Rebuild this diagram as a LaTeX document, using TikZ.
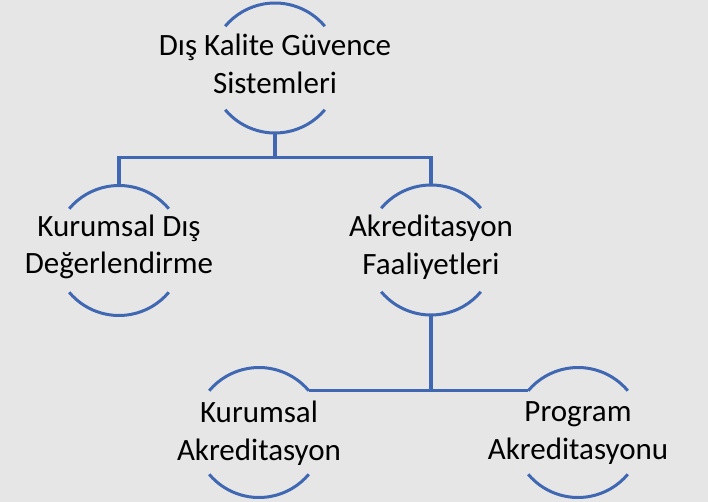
\documentclass[tikz,border=0pt]{standalone}
\usepackage{fontspec}
\setmainfont{Carlito}
\definecolor{bgc}{HTML}{E6E6E6}
\definecolor{lnc}{HTML}{4068B2}
\begin{document}
\begin{tikzpicture}[x=1pt,y=1pt,
  ring/.style={circle,minimum size=130pt,inner sep=0pt,outer sep=0pt,draw=none},
  lbl/.style={align=center,inner sep=0pt,font=\fontsize{31}{37.5}\selectfont},
  arcl/.style={draw=lnc,line width=3pt},
  conn/.style={draw=lnc,line width=3.2pt}]
\fill[bgc] (0,0) rectangle (708,-502);
\useasboundingbox (0,0) rectangle (708,-502);
% circles
\node[ring] (c1) at (275,-68) {};
\node[ring] (c2) at (119,-250.5) {};
\node[ring] (c3) at (431,-250) {};
\node[ring] (c4) at (259,-432.5) {};
\node[ring] (c5) at (578,-432.5) {};
% arcs
\foreach \c in {c1,c2,c3,c4,c5}{
  \draw[arcl] (\c.40) arc[start angle=40,end angle=140,radius=65pt];
  \draw[arcl] (\c.220) arc[start angle=220,end angle=320,radius=65pt];
}
% labels
\node[lbl] (t1) at (275,-64) {Dış Kalite Güvence\\Sistemleri};
\node[lbl] (t2) at (119,-247) {Kurumsal Dış\\Değerlendirme};
\node[lbl] (t3) at (431,-247) {Akreditasyon\\Faaliyetleri};
\node[lbl] (t4) at (259,-433) {Kurumsal\\Akreditasyon};
\node[lbl] (t5) at (578,-433) {Program\\Akreditasyonu};
% connectors
\coordinate (j1) at (275,-157.5);
\coordinate (j2) at (431,-391);
\draw[conn] (c1.south) -- (j1);
\draw[conn] (c2.north) |- (j1) -| (c3.north);
\draw[conn] (c3.south) -- (j2);
\draw[conn] (c4.40) -- (c5.140);
\end{tikzpicture}
\end{document}
